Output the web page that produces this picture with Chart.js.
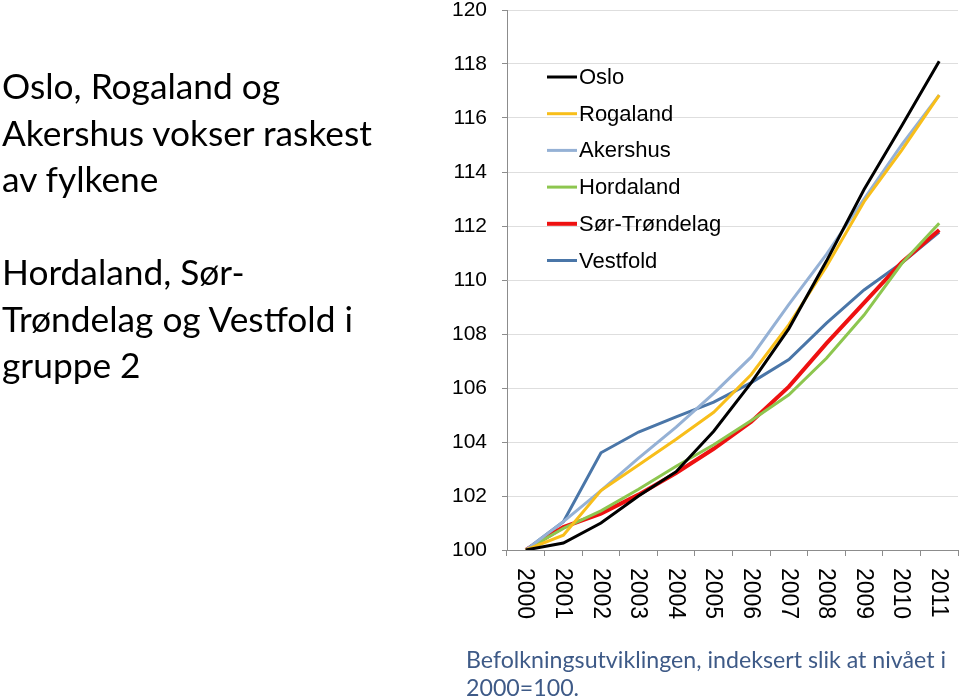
<!DOCTYPE html>
<html>
<head>
<meta charset="utf-8">
<script src="https://cdn.jsdelivr.net/npm/chart.js@4"></script>
<style>
  html, body { margin: 0; padding: 0; background: #fff; }
  #wrap { position: relative; width: 960px; height: 699px; overflow: hidden; }
  #chart { position: absolute; left: 0; top: 0; }
  .side {
    position: absolute; left: 2px; top: 63px; width: 430px;
    font-family: Lato, "Open Sans", sans-serif; font-size: 35.3px; line-height: 46.5px; color: #000;
  }
  .caption {
    position: absolute; left: 466px; top: 645px; width: 494px;
    font-family: Lato, "Open Sans", sans-serif; font-size: 23.2px; line-height: 28px; color: #3e5a87;
  }
</style>
</head>
<body>
<div id="wrap">
  <canvas id="chart" width="960" height="699"></canvas>
  <div class="side">Oslo, Rogaland og<br>Akershus vokser raskest<br>av fylkene<br><br>Hordaland, Sør-<br>Trøndelag og Vestfold i<br>gruppe 2</div>
  <div class="caption">Befolkningsutviklingen, indeksert slik at nivået i<br>2000=100.</div>
</div>
<script>
// Indeks, 2000 = 100
const years = ['2000', '2001', '2002', '2003', '2004', '2005', '2006', '2007', '2008', '2009', '2010', '2011'];
const oslo        = [100, 100.26, 101.0, 102.0, 102.9, 104.4, 106.2, 108.2, 110.7, 113.35, 115.7, 118.1];
const rogaland    = [100, 100.55, 102.2, 103.15, 104.1, 105.1, 106.5, 108.35, 110.5, 112.9, 114.8, 116.85];
const akershus    = [100, 101.05, 102.2, 103.4, 104.55, 105.8, 107.15, 109.1, 110.95, 113.0, 115.0, 116.85];
const hordaland   = [100, 100.8, 101.45, 102.25, 103.1, 103.9, 104.8, 105.75, 107.1, 108.7, 110.6, 112.1];
const sorTrondelag = [100, 100.85, 101.35, 102.05, 102.85, 103.75, 104.75, 106.05, 107.65, 109.15, 110.65, 111.85];
const vestfold    = [100, 101.05, 103.6, 104.37, 104.93, 105.48, 106.2, 107.05, 108.4, 109.63, 110.63, 111.77];
const yTicks = [100, 102, 104, 106, 108, 110, 112, 114, 116, 118, 120];

const series = [
  { label: 'Oslo', data: oslo, color: '#000000', width: 3 },
  { label: 'Rogaland', data: rogaland, color: '#f8be1a', width: 3 },
  { label: 'Akershus', data: akershus, color: '#95b1d5', width: 3 },
  { label: 'Hordaland', data: hordaland, color: '#8dc64f', width: 3 },
  { label: 'Sør-Trøndelag', data: sorTrondelag, color: '#ee1111', width: 4 },
  { label: 'Vestfold', data: vestfold, color: '#4a76a8', width: 3 }
];

// x labels read top-to-bottom (rotated clockwise), so they are drawn here
const xLabels = {
  id: 'xLabels',
  afterDraw(chart) {
    const ctx = chart.ctx;
    const x = chart.scales.x;
    ctx.save();
    ctx.font = '23px "Liberation Sans", Arial, sans-serif';
    ctx.fillStyle = '#000';
    ctx.textAlign = 'left';
    ctx.textBaseline = 'middle';
    years.forEach((y, i) => {
      ctx.save();
      ctx.translate(x.getPixelForValue(i) - 1, chart.chartArea.bottom + 18);
      ctx.rotate(Math.PI / 2);
      ctx.fillText(y, 0, 0);
      ctx.restore();
    });
    ctx.restore();
  }
};

const innerLegend = {
  id: 'innerLegend',
  afterDatasetsDraw(chart) {
    const ctx = chart.ctx;
    const left = chart.chartArea.left + 40;
    const top = chart.chartArea.top + 67;
    ctx.save();
    ctx.font = '22px "Liberation Sans", Arial, sans-serif';
    ctx.textBaseline = 'middle';
    chart.data.datasets.forEach((ds, i) => {
      const y = top + i * 36.7;
      ctx.strokeStyle = ds.borderColor;
      ctx.lineWidth = ds.borderWidth;
      ctx.beginPath();
      ctx.moveTo(left, y);
      ctx.lineTo(left + 30, y);
      ctx.stroke();
      ctx.fillStyle = '#000';
      ctx.fillText(ds.label, left + 32, y + 1);
    });
    ctx.restore();
  }
};

new Chart(document.getElementById('chart'), {
  type: 'line',
  data: {
    labels: years,
    datasets: series.map(s => ({
      label: s.label,
      data: s.data,
      borderColor: s.color,
      backgroundColor: s.color,
      borderWidth: s.width,
      pointRadius: 0,
      tension: 0
    }))
  },
  options: {
    responsive: false,
    animation: false,
    layout: { padding: { left: 440, top: 10, right: 2, bottom: 148 } },
    plugins: { legend: { display: false }, tooltip: { enabled: false } },
    scales: {
      x: {
        offset: true,
        afterFit(scale) { scale.height = 1; },
        ticks: { display: false },
        grid: { drawOnChartArea: false, offset: true, tickLength: 6, tickColor: '#8c8c8c', tickWidth: 1 },
        border: { color: '#8c8c8c', width: 1 }
      },
      y: {
        min: 100,
        max: 120,
        afterFit(scale) {
          scale.width = 67;
          scale.paddingTop = 0;
          scale.paddingBottom = 0;
        },
        afterBuildTicks(scale) { scale.ticks = yTicks.map(v => ({ value: v })); },
        ticks: {
          padding: 15,
          color: '#000',
          font: { family: '"Liberation Sans", Arial, sans-serif', size: 21 }
        },
        grid: { color: '#dedede', tickColor: '#8c8c8c', tickLength: 5, lineWidth: 1 },
        border: { color: '#8c8c8c', width: 1 }
      }
    }
  },
  plugins: [xLabels, innerLegend]
});
</script>
</body>
</html>
